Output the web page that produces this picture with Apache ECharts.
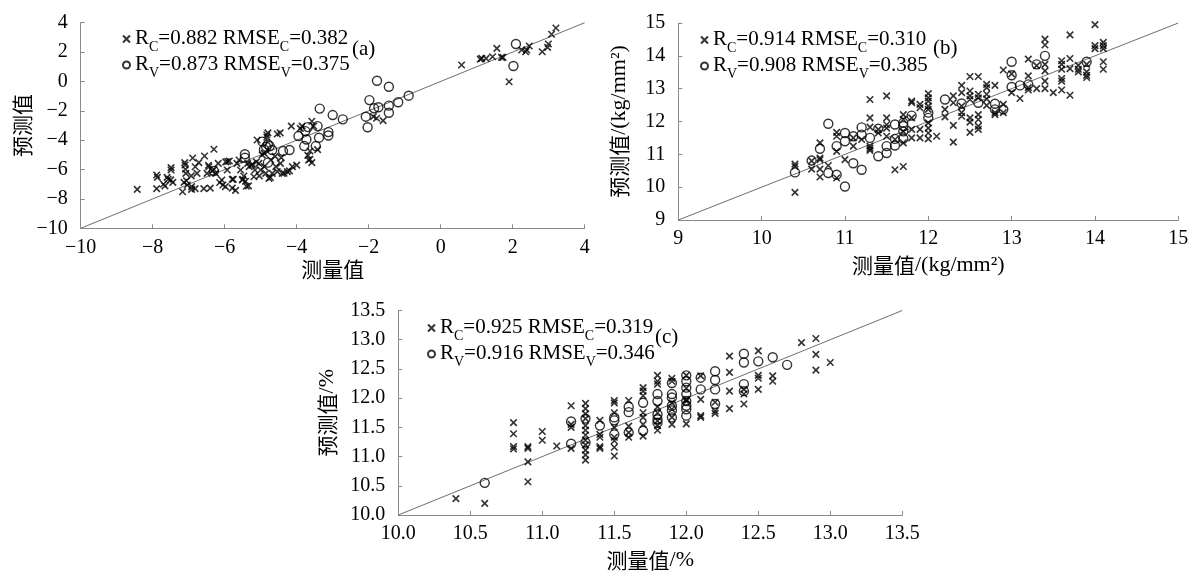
<!DOCTYPE html>
<html lang="zh">
<head>
<meta charset="UTF-8">
<title>预测值与测量值散点图</title>
<script src="https://cdn.jsdelivr.net/npm/echarts@6/dist/echarts.min.js"></script>
<style>
  html, body { margin: 0; padding: 0; background: #fff; }
  #main { width: 1200px; height: 577px; }
</style>
</head>
<body>
<div id="main"></div>
<script type="text/javascript">

// ---- data: [measured, predicted] ----
let calA = [
  [-8.43,-7.35],[-7.89,-7.3],[-7.89,-6.37],[-7.87,-6.53],[-7.66,-7.12],[-7.6,-6.53],[-7.5,-6.7],[-7.49,-5.87],
  [-7.49,-6.03],[-7.44,-6.87],[-7.17,-7.51],[-7.13,-6.87],[-7.06,-6.76],[-7.1,-5.69],[-7.08,-6.26],[-7.04,-7.05],
  [-6.92,-7.16],[-6.89,-5.21],[-6.82,-5.81],[-6.77,-6.26],[-6.92,-7.35],[-6.82,-7.3],[-6.72,-5.53],[-6.58,-7.3],
  [-6.56,-5.08],[-6.49,-6.26],[-6.44,-5.81],[-6.4,-7.26],[-6.3,-4.62],[-6.3,-6.0],[-6.25,-6.26],[-6.35,-6.1],
  [-6.18,-5.58],[-6.08,-6.71],[-6.05,-7.05],[-5.98,-7.16],[-5.97,-5.48],[-5.92,-5.45],[-5.93,-6.03],[-5.79,-6.67],
  [-5.79,-7.26],[-5.7,-7.42],[-5.66,-5.58],[-5.56,-6.03],[-5.51,-6.71],[-5.47,-6.44],[-5.42,-6.8],[-5.4,-7.14],
  [-5.36,-5.58],[-5.32,-5.8],[-5.19,-6.49],[-5.16,-6.03],[-5.12,-5.48],[-5.05,-5.58],[-5.1,-3.99],[-5.0,-6.03],
  [-4.9,-5.8],[-4.86,-6.26],[-4.83,-3.65],[-4.83,-3.8],[-4.77,-6.6],[-4.72,-5.35],[-4.68,-6.26],[-4.58,-5.8],
  [-4.54,-6.14],[-4.54,-3.58],[-4.45,-5.58],[-4.4,-6.26],[-4.35,-6.25],[-4.26,-6.14],[-4.12,-5.8],[-4.15,-3.04],
  [-3.69,-5.03],[-3.67,-5.35],[-3.58,-5.53],[-3.42,-4.64],[-3.85,-3.04],[-3.58,-2.71],[-3.63,-4.74],[-3.53,-3.04],
  [-3.9,-3.2],[-4.96,-5.0],[-5.6,-5.35],[-5.25,-5.7],[-4.9,-4.9],[-4.6,-5.1],[-4.0,-5.7],
  [-7.7,-7.0],[-7.57,-6.66],[-7.11,-5.53],[-7.09,-5.98],[-6.93,-6.43],[-6.45,-5.71],[-6.14,-6.88],
  [-5.87,-5.42],[-5.76,-6.66],[-5.5,-6.66],[-5.34,-7.11],[-5.23,-5.64],[-5.04,-6.43],[-4.73,-6.54],
  [-4.43,-5.19],[-4.2,-6.09],[-3.63,-5.3],[-4.46,-3.5],[-4.8,-3.5],
  [-1.87,-2.4],[-1.78,-2.51],[-1.6,-2.67],
  [0.58,1.12],[1.1,1.52],[1.14,1.57],[1.26,1.57],[1.44,1.68],[1.56,2.25],[1.69,1.64],[1.73,1.64],[1.9,-0.02],
  [2.25,2.14],[2.36,2.02],[2.39,2.14],[2.46,2.41],[2.82,2.02],[2.97,2.32],[2.99,2.55],[3.08,3.21],[3.2,3.64]
];
let valA = [
  [2.09,2.55],[2.02,1.05],[-1.77,0.05],[-1.44,-0.36],[-0.89,-0.97],[-1.18,-1.42],[-1.44,-1.65],[-1.44,-2.13],
  [-1.98,-1.27],[-1.73,-1.76],[-1.85,-1.83],[-2.08,-2.4],[-2.03,-3.12],[-2.72,-2.58],[-3.0,-2.29],[-3.36,-1.85],
  [-3.12,-3.45],[-3.12,-3.68],[-3.42,-3.04],[-3.38,-3.83],[-3.47,-4.4],[-3.69,-3.11],[-3.76,-3.38],[-3.79,-4.4],
  [-3.95,-3.72],[-3.73,-3.95],[-4.2,-4.67],[-4.38,-4.74],[-4.8,-4.29],[-4.68,-4.67],[-4.91,-4.63],[-4.85,-4.45],
  [-4.75,-4.4],[-5.44,-4.96],[-5.44,-5.2],[-4.8,-5.53],[-6.3,-6.1],[-4.95,-4.1]
];
let calB = [
  [10.4,10.7],[10.4,10.63],[10.4,9.84],[10.6,10.55],[10.6,10.8],
  [10.7,11.35],[10.7,10.89],[10.7,10.84],[10.7,10.55],[10.7,10.31],[10.8,10.66],
  [10.9,11.67],[10.9,11.55],[10.9,11.09],[10.9,10.28],[11.0,10.84],[11.1,11.25],[11.1,11.5],[11.2,11.45],
  [11.3,12.67],[11.3,12.11],[11.3,11.83],[11.3,11.25],[11.3,11.12],[11.3,11.18],[11.4,11.76],[11.4,11.65],
  [11.5,12.78],[11.5,12.11],[11.5,11.9],[11.5,11.8],[11.5,11.55],[11.6,10.53],[11.6,11.45],
  [11.7,12.21],[11.7,12.06],[11.7,11.7],[11.7,11.35],[11.7,10.63],
  [11.8,12.62],[11.8,12.57],[11.8,12.11],[11.8,11.76],[11.8,11.5],[11.9,12.52],[11.9,12.42],[11.9,11.76],[11.9,11.5],
  [12.0,12.85],[12.0,12.72],[12.0,12.62],[12.0,12.47],[12.0,12.37],[12.0,11.96],[12.0,11.8],[12.0,11.65],[12.0,11.47],
  [12.1,11.55],[12.2,12.37],[12.2,12.14],[12.3,12.78],[12.3,12.57],[12.3,11.88],[12.3,11.37],
  [12.4,13.1],[12.4,12.88],[12.4,12.47],[12.4,12.27],[12.4,12.16],
  [12.5,13.37],[12.5,12.93],[12.5,12.78],[12.5,12.67],[12.5,12.11],[12.5,11.98],[12.5,11.67],
  [12.6,13.37],[12.6,12.83],[12.6,12.72],[12.6,12.21],[12.6,12.06],[12.6,11.86],[12.6,11.76],
  [12.7,13.13],[12.7,13.03],[12.7,12.83],[12.7,12.69],[12.7,12.49],[12.8,13.1],[12.8,12.27],[12.8,12.21],
  [12.9,13.57],[12.9,12.27],[12.9,12.52],[13.0,12.88],[13.0,13.45],[13.1,12.7],
  [13.2,13.9],[13.2,13.39],[13.2,13.03],[13.2,12.96],[13.3,13.0],[13.3,13.7],
  [13.4,14.51],[13.4,14.33],[13.4,13.74],[13.4,13.54],[13.4,13.23],[13.4,13.0],[13.5,12.88],
  [13.6,13.85],[13.6,13.74],[13.6,13.59],[13.6,13.31],[13.6,13.23],[13.6,12.96],
  [13.7,14.64],[13.7,13.92],[13.7,13.61],[13.7,12.8],[13.8,13.71],[13.8,13.59],[13.8,13.51],
  [13.9,13.74],[13.9,13.51],[13.9,13.41],[13.9,13.34],[14.0,14.95],[14.0,14.31],[14.0,14.22],
  [14.1,14.41],[14.1,14.31],[14.1,14.22],[14.1,13.82],[14.1,13.59]
];
let valB = [
  [10.4,10.45],[10.6,10.81],[10.7,11.17],[10.8,11.93],[10.8,10.43],[10.9,11.25],[10.9,10.38],[11.0,11.65],
  [11.0,11.4],[11.0,10.02],[11.1,11.55],[11.1,10.73],[11.2,11.82],[11.2,11.6],[11.2,10.53],[11.3,11.5],
  [11.4,11.78],[11.4,10.94],[11.5,11.25],[11.5,11.04],[11.6,11.91],[11.6,11.47],[11.6,11.27],[11.7,11.96],
  [11.7,11.86],[11.7,11.7],[11.7,11.48],[11.8,12.18],[12.0,12.27],[12.0,12.11],[12.2,12.67],[12.4,12.55],
  [12.6,12.57],[12.8,12.54],[12.8,12.37],[12.9,12.37],[13.0,13.82],[13.0,13.41],[13.0,13.05],[13.1,13.1],
  [13.2,13.13],[13.3,13.74],[13.4,14.0],[13.9,13.82]
];
let calC = [
  [10.4,10.28],[10.6,10.2],[10.8,11.58],[10.8,11.39],[10.8,11.17],[10.8,11.13],
  [10.9,11.17],[10.9,11.14],[10.9,10.91],[10.9,10.57],[11.0,11.43],[11.0,11.28],[11.1,11.18],
  [11.2,11.87],[11.2,11.5],[11.2,11.14],[11.2,11.55],
  [11.3,11.91],[11.3,11.82],[11.3,11.73],[11.3,11.65],[11.3,11.53],[11.3,11.45],[11.3,11.37],[11.3,11.28],
  [11.3,11.2],[11.3,11.11],[11.3,11.03],[11.3,10.94],
  [11.4,11.62],[11.4,11.38],[11.4,11.33],[11.4,11.17],[11.4,11.14],
  [11.5,11.96],[11.5,11.92],[11.5,11.75],[11.5,11.5],[11.5,11.27],[11.5,11.16],[11.5,11.01],[11.5,11.33],
  [11.6,11.96],[11.6,11.52],[11.6,11.41],[11.6,11.33],
  [11.7,12.18],[11.7,12.12],[11.7,12.04],[11.7,11.75],[11.7,11.67],[11.7,11.55],[11.7,11.35],
  [11.8,12.39],[11.8,12.29],[11.8,12.24],[11.8,11.75],[11.8,11.61],[11.8,11.53],[11.8,11.45],[11.8,11.85],
  [11.9,12.34],[11.9,12.29],[11.9,11.67],[11.9,11.55],[11.9,11.81],[11.9,11.92],
  [12.0,12.39],[12.0,11.56],[12.0,11.98],[12.0,11.95],[12.0,12.17],
  [12.1,12.38],[12.1,11.98],[12.1,11.7],[12.1,11.67],[12.2,11.93],[12.2,11.78],[12.2,11.74],
  [12.3,12.72],[12.3,12.44],[12.3,12.12],[12.3,11.82],[12.4,12.15],[12.4,12.07],[12.4,11.9],
  [12.5,12.81],[12.5,12.39],[12.5,12.34],[12.5,12.15],[12.6,12.38],[12.6,12.29],
  [12.8,12.95],[12.9,13.02],[12.9,12.75],[12.9,12.48],[13.0,12.61]
];
let valC = [
  [10.6,10.55],[11.2,11.6],[11.2,11.22],[11.3,11.65],[11.3,11.24],[11.4,11.53],[11.5,11.67],[11.5,11.38],
  [11.5,11.62],[11.6,11.85],[11.6,11.76],[11.6,11.41],[11.7,11.92],[11.7,11.44],
  [11.8,12.07],[11.8,11.95],[11.8,11.72],[11.8,11.64],[11.8,11.58],
  [11.9,12.26],[11.9,12.07],[11.9,12.01],[11.9,11.87],[11.9,11.79],[11.9,11.67],
  [12.0,12.39],[12.0,12.29],[12.0,12.18],[12.0,12.07],[12.0,11.87],[12.0,11.81],[12.0,11.7],[12.0,11.95],
  [12.1,12.35],[12.1,12.15],[12.2,12.46],[12.2,12.31],[12.2,12.15],[12.2,11.9],
  [12.4,12.76],[12.4,12.61],[12.4,12.24],[12.4,12.12],[12.5,12.63],[12.6,12.7],[12.7,12.57]
];

// 1:1 lines
let diagA = [[-10,-10],[4,4]];
let diagB = [[9,9],[15,15]];
let diagC = [[10,10],[13.5,13.5]];

// stats: R_C, RMSE_C, R_V, RMSE_V
let statsA = ['0.882','0.382','0.873','0.375'];
let statsB = ['0.914','0.310','0.908','0.385'];
let statsC = ['0.925','0.319','0.916','0.346'];

let tags = ['(a)','(b)','(c)'];

const SERIF = 'Liberation Serif';
const CJK = 'Noto Sans CJK SC';

let myChart = echarts.init(document.getElementById('main'));

let panels = [
    {grid: {left: 80.7, top: 22.7, width: 504, height: 205.6}, xr: [-10, 4, 2], yr: [-10, 4, 2],
     cal: calA, val: valA, diag: diagA, stats: statsA,
     xName: '{c|测量值}', yName: '{c|预测值}', xGap: 27, yGap: 40, dec: 0,
     legend: {left: 122, top: 28}, tag: {left: 352, top: 39}},
    {grid: {left: 678.3, top: 23, width: 500, height: 197}, xr: [9, 15, 1], yr: [9, 15, 1],
     cal: calB, val: valB, diag: diagB, stats: statsB,
     xName: '{c|测量值}{l|/(kg/mm²)}', yName: '{c|预测值}{l|/(kg/mm²)}', xGap: 34, yGap: 48, dec: 0,
     legend: {left: 700, top: 29}, tag: {left: 933, top: 38}},
    {grid: {left: 398.3, top: 310.5, width: 504, height: 204.5}, xr: [10, 13.5, 0.5], yr: [10, 13.5, 0.5],
     cal: calC, val: valC, diag: diagC, stats: statsC,
     xName: '{c|测量值}{l|/%}', yName: '{c|预测值}{l|/%}', xGap: 34, yGap: 60, dec: 1,
     legend: {left: 427, top: 317}, tag: {left: 655, top: 327}}
];

let nameRich = {
    c: {fontFamily: CJK, fontSize: 21, color: '#000'},
    l: {fontFamily: SERIF, fontSize: 22, color: '#000'}
};
let subRich = {
    r: {fontFamily: SERIF, fontSize: 21, color: '#000', lineHeight: 22, verticalAlign: 'top'},
    s: {fontFamily: SERIF, fontSize: 14, color: '#000', lineHeight: 14, padding: [12, 0, 0, 0], verticalAlign: 'top'}
};

function tickFmt(dec) {
    return function (v) {
        return v.toFixed(dec).replace('-', '\u2212');
    };
}

function axis(r, name, gap, dec, isY) {
    return {
        type: 'value', min: r[0], max: r[1], interval: r[2],
        name: name, nameLocation: 'middle', nameGap: gap, nameRotate: isY ? 90 : 0,
        nameTextStyle: {rich: nameRich},
        axisLine: {show: true, onZero: false, lineStyle: {color: '#8a8a8a', width: 1}},
        axisTick: {show: true, inside: true, length: 4, lineStyle: {color: '#8a8a8a'}},
        splitLine: {show: false},
        axisLabel: {fontFamily: SERIF, fontSize: 20, color: '#000', margin: isY ? 13 : 9, formatter: tickFmt(dec)}
    };
}

let grids = [], xAxes = [], yAxes = [], series = [], legends = [], graphics = [];

panels.forEach(function (p, i) {
    grids.push(p.grid);
    xAxes.push(Object.assign(axis(p.xr, p.xName, p.xGap, p.dec, false), {gridIndex: i}));
    yAxes.push(Object.assign(axis(p.yr, p.yName, p.yGap, p.dec, true), {gridIndex: i}));

    let calName = 'cal' + i, valName = 'val' + i;
    let labels = {};
    labels[calName] = '{r|R}{s|C}{r|=' + p.stats[0] + ' RMSE}{s|C}{r|=' + p.stats[1] + '}';
    labels[valName] = '{r|R}{s|V}{r|=' + p.stats[2] + ' RMSE}{s|V}{r|=' + p.stats[3] + '}';

    series.push({
        type: 'line', xAxisIndex: i, yAxisIndex: i, data: p.diag, symbol: 'none', silent: true,
        lineStyle: {color: '#6e6e6e', width: 1}, z: 1
    });
    series.push({
        name: calName, type: 'scatter', xAxisIndex: i, yAxisIndex: i, data: p.cal,
        symbol: 'path://M0,0L10,10M10,0L0,10', symbolSize: 6.5,
        itemStyle: {color: '#000', borderColor: '#000', borderWidth: 1.6}, silent: true, z: 3
    });
    series.push({
        name: valName, type: 'scatter', xAxisIndex: i, yAxisIndex: i, data: p.val,
        symbol: 'circle', symbolSize: 9,
        itemStyle: {color: 'rgba(0,0,0,0)', borderColor: '#000', borderWidth: 1.4}, silent: true, z: 2
    });

    legends.push({
        data: [calName, valName], orient: 'vertical', left: p.legend.left, top: p.legend.top,
        padding: 0, itemGap: 0, itemWidth: 7, itemHeight: 7, selectedMode: false,
        formatter: function (n) { return labels[n]; },
        textStyle: {rich: subRich}
    });

    graphics.push({
        type: 'text', left: p.tag.left, top: p.tag.top,
        style: {text: tags[i], fontFamily: SERIF, fontSize: 21, fill: '#000'}
    });
});

let option = {
    animation: false,
    backgroundColor: '#fff',
    grid: grids,
    xAxis: xAxes,
    yAxis: yAxes,
    legend: legends,
    graphic: graphics,
    series: series
};
myChart.setOption(option);

</script>
</body>
</html>
